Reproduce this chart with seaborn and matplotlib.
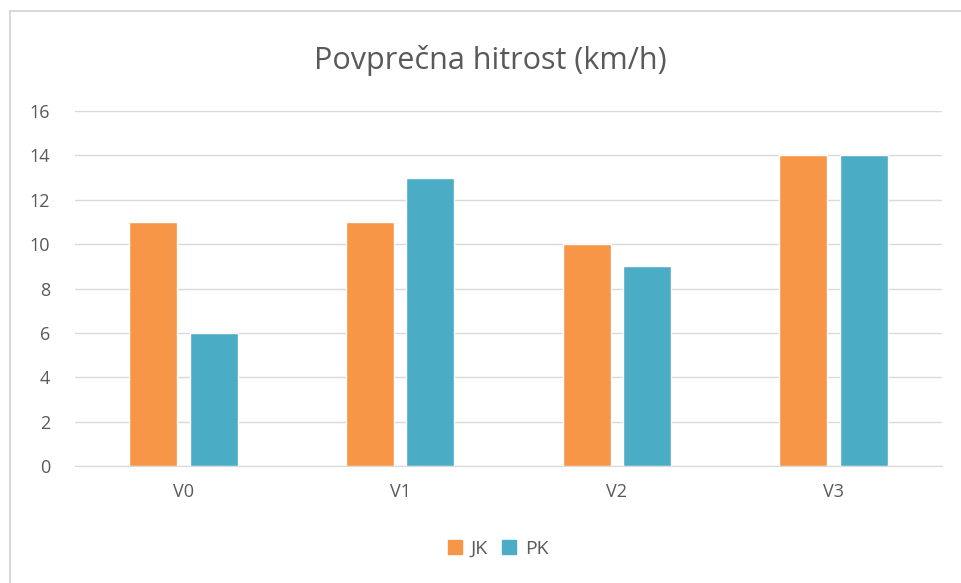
import matplotlib
matplotlib.use("Agg")
import matplotlib.pyplot as plt
import pandas as pd
import seaborn as sns
from matplotlib.lines import Line2D

kategorije = ["V0", "V1", "V2", "V3"]
jk = [11, 11, 10, 14]
pk = [6, 13, 9, 14]
serije = ["JK", "PK"]
barve = ["#F79646", "#4BACC6"]

df = pd.DataFrame({
    "kategorija": kategorije * 2,
    "hitrost": jk + pk,
    "serija": ["JK"] * 4 + ["PK"] * 4,
})

sns.set_style("white")
plt.rcParams["font.family"] = ["Open Sans", "DejaVu Sans"]
siva = "#595959"

fig = plt.figure(figsize=(9.62, 5.83), dpi=100)
ax = fig.add_axes([75 / 962, 1 - 466 / 583, 867 / 962, 355 / 583])

sns.barplot(data=df, x="kategorija", y="hitrost", hue="serija",
            palette=barve, width=0.56, gap=0.21, ax=ax, legend=False,
            saturation=1, zorder=3)

ax.set_xlim(-0.5, 3.5)
ax.set_ylim(0, 16)
ax.set_yticks(range(0, 17, 2))
ax.yaxis.grid(True, color="#D9D9D9", linewidth=1, zorder=0)
ax.set_axisbelow(True)
for s in ["top", "right", "left"]:
    ax.spines[s].set_visible(False)
ax.spines["bottom"].set_color("#D9D9D9")
ax.tick_params(axis="both", length=0, labelsize=13, labelcolor=siva)
ax.tick_params(axis="x", pad=12)
ax.tick_params(axis="y", pad=18)
ax.set_xlabel("")
ax.set_ylabel("")

fig.text(490 / 962, 1 - 60 / 583, "Povprečna hitrost (km/h)", ha="center",
         va="center", fontsize=22, color=siva)

rocke = [Line2D([0], [0], marker="s", linestyle="", markersize=10,
                markerfacecolor=b, markeredgecolor=b) for b in barve]
fig.legend(rocke, serije, loc="center", bbox_to_anchor=(497 / 962, 1 - 549 / 583),
           ncol=2, frameon=False, fontsize=14, labelcolor=siva,
           handlelength=1.0, handletextpad=0.3, columnspacing=0.6)

# okvir (zgoraj in levo)
fig.add_artist(Line2D([10 / 962, 10 / 962], [0, 1 - 11 / 583],
                      color="#D9D9D9", linewidth=1.5, transform=fig.transFigure))
fig.add_artist(Line2D([10 / 962, 1], [1 - 11 / 583, 1 - 11 / 583],
                      color="#D9D9D9", linewidth=1.5, transform=fig.transFigure))

fig.savefig("out.png", dpi=100)
